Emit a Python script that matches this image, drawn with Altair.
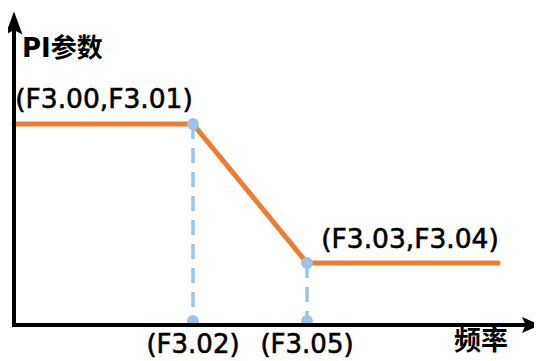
import altair as alt
import pandas as pd

# ---- data (schematic units: x = frequency, y = PI parameter) ----
curve_x = [0, 179, 293, 484]
curve_y = [201, 201, 62, 62]
knee_x = [179, 293]
knee_y = [201, 62]
point_labels = ["(F3.00,F3.01)", "(F3.03,F3.04)"]
tick_labels = ["(F3.02)", "(F3.05)"]
y_title = "PI参数"
x_title = "频率"
x_axis_end = 517
y_axis_end = 302

# ---- layout ----
label_pos_x = [90, 396]
label_pos_y = [225, 85]
tick_label_y = -20

X = alt.Scale(domain=[-6, 520], nice=False, zero=False)
Y = alt.Scale(domain=[-28, 317], nice=False, zero=False)

ORANGE = "#ED7D31"
BLUE = "#9DC3E6"
LATIN = "DejaVu Sans"
CJK = "DejaVu Sans, Noto Sans CJK SC"

curve_df = pd.DataFrame({"x": curve_x, "y": curve_y, "o": range(len(curve_x))})
knee_df = pd.DataFrame({"x": knee_x, "y": knee_y, "y0": [0] * len(knee_x)})
lab_df = pd.DataFrame({"t": point_labels, "x": label_pos_x, "y": label_pos_y})
tick_df = pd.DataFrame({"t": tick_labels, "x": knee_x, "y": [tick_label_y] * len(knee_x)})

def enc_x(f="x"):
    return alt.X(f"{f}:Q", scale=X, axis=None)

def enc_y(f="y"):
    return alt.Y(f"{f}:Q", scale=Y, axis=None)

dashes = alt.Chart(knee_df).mark_rule(
    color=BLUE, strokeWidth=3.5, strokeDash=[15, 9]
).encode(x=enc_x(), y=enc_y(), y2="y0:Q")

curve = alt.Chart(curve_df).mark_line(
    color=ORANGE, strokeWidth=5, strokeCap="round", strokeJoin="round"
).encode(x=enc_x(), y=enc_y(), order="o:Q")

knees = alt.Chart(knee_df).mark_point(
    filled=True, color=BLUE, size=140, opacity=1
).encode(x=enc_x(), y=enc_y())

foot = alt.Chart(knee_df).mark_point(
    filled=True, color=BLUE, size=140, opacity=1, yOffset=-4
).encode(x=enc_x(), y=enc_y("y0"))

axis_df = pd.DataFrame({"x": [0, 0], "y": [0, 0], "x2": [x_axis_end, 0], "y2": [0, y_axis_end]})
axes = alt.Chart(axis_df).mark_rule(color="black", strokeWidth=4, strokeCap="square").encode(
    x=enc_x(), y=enc_y(), x2="x2:Q", y2="y2:Q"
)

arrow_x = alt.Chart(pd.DataFrame({"x": [x_axis_end], "y": [0]})).mark_point(
    shape="M1,0L-1,-0.89L-0.6,0L-1,0.89Z", size=324, filled=True, color="black", opacity=1
).encode(x=enc_x(), y=enc_y())

arrow_y = alt.Chart(pd.DataFrame({"x": [0], "y": [y_axis_end]})).mark_point(
    shape="M0,-1L0.74,1L0,0.6L-0.74,1Z", size=529, filled=True, color="black", opacity=1
).encode(x=enc_x(), y=enc_y())

labels = alt.Chart(lab_df).mark_text(
    font=LATIN, fontSize=26.5, color="black", align="center", baseline="middle",
    stroke="black", strokeWidth=0.6
).encode(x=enc_x(), y=enc_y(), text="t:N")

ticks = alt.Chart(tick_df).mark_text(
    font=LATIN, fontSize=26, color="black", align="center", baseline="middle",
    stroke="black", strokeWidth=0.6
).encode(x=enc_x(), y=enc_y(), text="t:N")

ytitle = alt.Chart(pd.DataFrame({"t": [y_title], "x": [8], "y": [276]})).mark_text(
    font=CJK, fontSize=26, fontWeight="bold", color="black", align="left", baseline="middle"
).encode(x=enc_x(), y=enc_y(), text="t:N")

xtitle = alt.Chart(pd.DataFrame({"t": [x_title], "x": [467], "y": [-17]})).mark_text(
    font=CJK, fontSize=27, fontWeight="bold", color="black", align="center", baseline="middle"
).encode(x=enc_x(), y=enc_y(), text="t:N")

chart = alt.layer(
    dashes, curve, knees, foot, axes, arrow_x, arrow_y, labels, ticks, ytitle, xtitle
).properties(
    width=526, height=345,
    autosize=alt.AutoSizeParams(type="none"),
    padding={"left": 0, "top": 0, "right": 0, "bottom": 8},
    background="white",
).configure_view(stroke=None)

chart.save("out.html", embed_options={"renderer": "svg", "actions": False})
